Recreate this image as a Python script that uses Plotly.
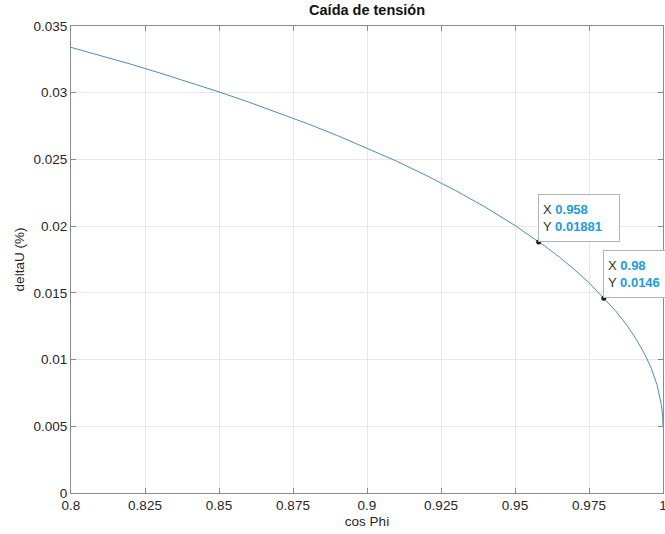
import plotly.graph_objects as go

# cos(phi) samples and voltage drop values
cos_phi = [0.800, 0.810, 0.820, 0.830, 0.840, 0.850, 0.860, 0.870, 0.880, 0.890,
           0.900, 0.910, 0.920, 0.930, 0.940, 0.950, 0.958, 0.960, 0.965, 0.970,
           0.975, 0.980, 0.984, 0.988, 0.991, 0.994, 0.996, 0.998, 0.999, 0.9995,
           0.9999, 1.000]
delta_u = [0.03340, 0.03279, 0.03215, 0.03148, 0.03079, 0.03006, 0.02930, 0.02851,
           0.02767, 0.02679, 0.02586, 0.02487, 0.02380, 0.02266, 0.02142, 0.02005,
           0.01881, 0.01852, 0.01768, 0.01676, 0.01576, 0.01460, 0.01365, 0.01251,
           0.01151, 0.01033, 0.00936, 0.00809, 0.00719, 0.00655, 0.00569, 0.00500]

# data tips
tip_x = [0.958, 0.98]
tip_y = [0.01881, 0.0146]
tip_y_text = ["0.01881", "0.0146"]
tip_box_w = [72, 90]

x_ticks = [0.8, 0.825, 0.85, 0.875, 0.9, 0.925, 0.95, 0.975, 1.0]
x_tick_text = ["0.8", "0.825", "0.85", "0.875", "0.9", "0.925", "0.95", "0.975", "1"]
y_ticks = [0, 0.005, 0.01, 0.015, 0.02, 0.025, 0.03, 0.035]
y_tick_text = ["0", "0.005", "0.01", "0.015", "0.02", "0.025", "0.03", "0.035"]

FONT = "Liberation Sans, Arial, Helvetica, sans-serif"
AXIS_COLOR = "#8a8a8a"
TEXT_COLOR = "#262626"
LINE_COLOR = "#4a8dbf"
VALUE_COLOR = "#1a9be6"

fig = go.Figure()
fig.add_trace(go.Scatter(x=cos_phi, y=delta_u, mode="lines",
                         line=dict(color=LINE_COLOR, width=1), hoverinfo="skip"))
fig.add_trace(go.Scatter(x=tip_x, y=tip_y, mode="markers",
                         marker=dict(color="#1a1a1a", size=5), hoverinfo="skip"))

for tx, ty, tyt, bw in zip(tip_x, tip_y, tip_y_text, tip_box_w):
    txt = (f"X <span style='color:{VALUE_COLOR}'><b>{tx:g}</b></span><br>"
           f"Y <span style='color:{VALUE_COLOR}'><b>{tyt}</b></span>")
    fig.add_annotation(x=tx, y=ty, xref="x", yref="y", text=txt, showarrow=False,
                       xanchor="left", yanchor="bottom", align="left",
                       width=bw, height=38, valign="middle",
                       font=dict(family=FONT, size=13, color="#333333"),
                       bgcolor="rgba(255,255,255,0.95)", bordercolor="#b3b3b3",
                       borderwidth=1, borderpad=4, xshift=-1)

axis_common = dict(showline=True, linecolor=AXIS_COLOR, linewidth=1, mirror="ticks",
                   ticks="inside", ticklen=5, tickcolor=AXIS_COLOR, tickwidth=1,
                   showgrid=True, gridcolor="#e8e8e8", gridwidth=1, zeroline=False,
                   ticklabeloverflow="allow", automargin=False,
                   tickfont=dict(family=FONT, size=13.5, color=TEXT_COLOR))

fig.update_layout(
    width=665, height=534,
    margin=dict(l=71, r=2, t=26, b=41),
    paper_bgcolor="white", plot_bgcolor="white",
    showlegend=False,
    title=dict(text="<b>Caída de tensión</b>", x=0.552, xanchor="center",
               y=1 - 10 / 534, yanchor="middle",
               font=dict(family=FONT, size=14.5, color="#111111")),
    xaxis=dict(range=[0.8, 1.0], tickvals=x_ticks, ticktext=x_tick_text,
               title=dict(text="cos Phi", standoff=4,
                          font=dict(family=FONT, size=13.5, color=TEXT_COLOR)),
               **axis_common),
    yaxis=dict(range=[0, 0.035], tickvals=y_ticks, ticktext=y_tick_text,
               title=dict(text="deltaU (%)", standoff=5,
                          font=dict(family=FONT, size=13.5, color=TEXT_COLOR)),
               **axis_common),
)

fig.write_html("out.html")
